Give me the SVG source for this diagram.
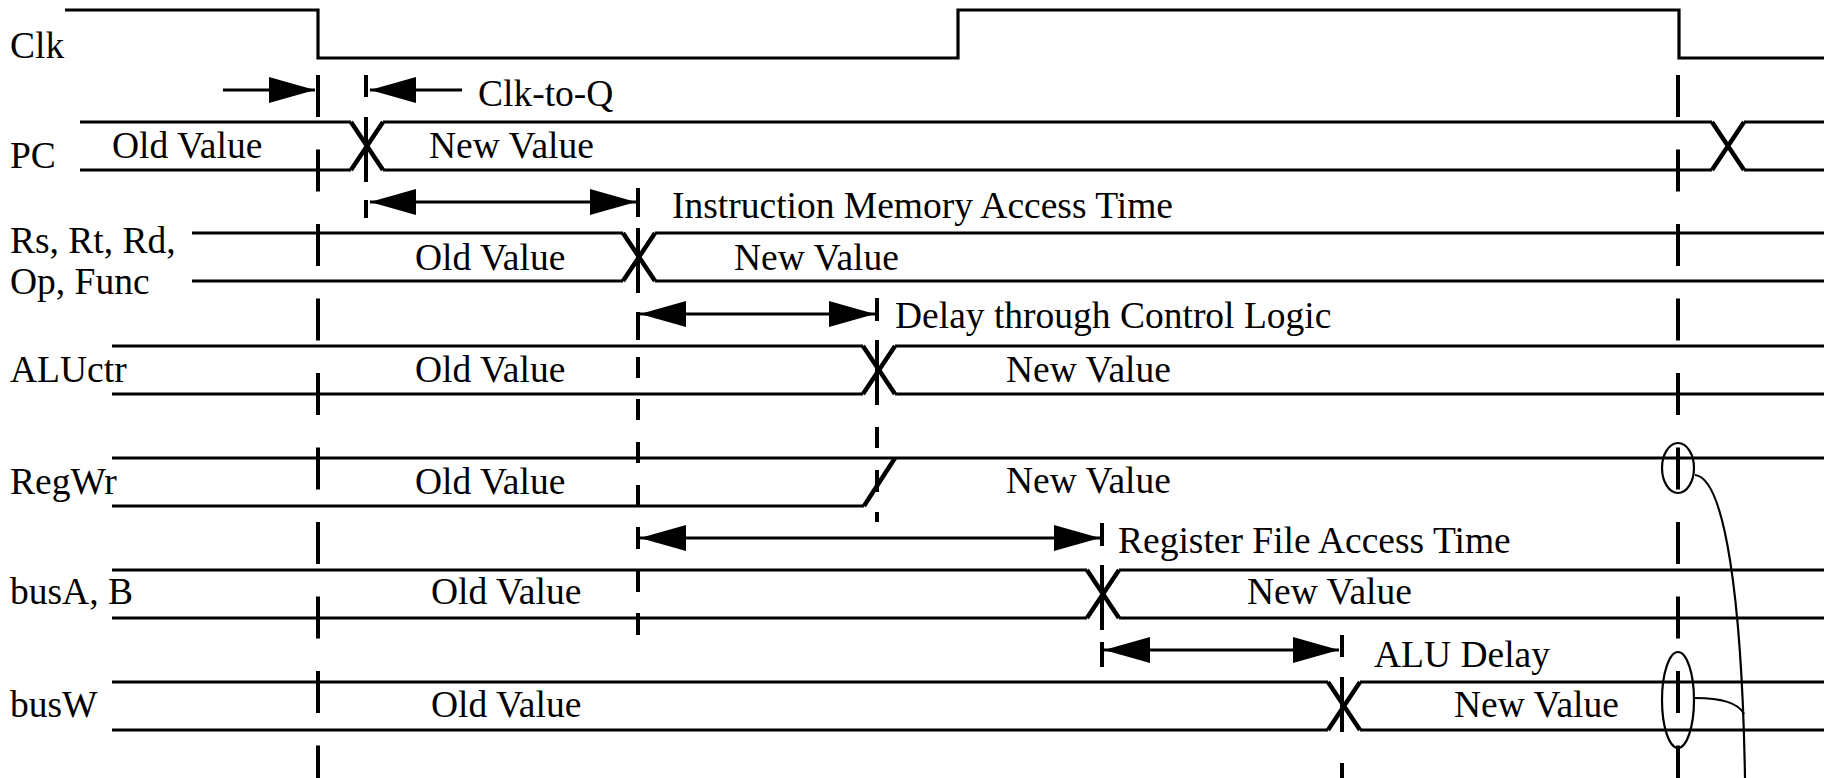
<svg xmlns="http://www.w3.org/2000/svg" width="1832" height="778" viewBox="0 0 1832 778">
<style>
text{font-family:"Liberation Serif","Times New Roman",serif;font-size:37.5px;fill:#000}
.sig{fill:none;stroke:#000;stroke-width:3.2}
.x{fill:none;stroke:#000;stroke-width:4.5}
.dl{fill:none;stroke:#000;stroke-width:4}
.ar{fill:none;stroke:#000;stroke-width:3.2}
.th{fill:none;stroke:#000;stroke-width:2.2}
</style>
<defs>
<marker id="ah" markerUnits="userSpaceOnUse" markerWidth="48" markerHeight="28" refX="46" refY="13" orient="auto-start-reverse">
<path d="M0,0 L46,13 L0,26 z" fill="#000"/>
</marker>
</defs>
<rect width="1832" height="778" fill="#fff"/>

<g id="clk">
<path class="sig" d="M65,10 H318 V58 H958 V10 H1679 V58 H1824"/>
<text x="10" y="58">Clk</text>
</g>

<g id="pc">
<path class="sig" d="M80,122 H351 M383,122 H1712 M1744,122 H1824 M80,170 H351 M383,170 H1712 M1744,170 H1824"/>
<path class="x" d="M351,122 L383,170 M351,170 L383,122 M1712,122 L1744,170 M1712,170 L1744,122"/>
<text x="10" y="168">PC</text>
<text x="112" y="158">Old Value</text>
<text x="429" y="158">New Value</text>
</g>

<g id="rs">
<path class="sig" d="M192,233 H623 M655,233 H1824 M192,281 H623 M655,281 H1824"/>
<path class="x" d="M623,233 L655,281 M623,281 L655,233"/>
<text x="10" y="253">Rs, Rt, Rd,</text>
<text x="10" y="294">Op, Func</text>
<text x="415" y="270">Old Value</text>
<text x="734" y="270">New Value</text>
</g>

<g id="aluctr">
<path class="sig" d="M112,346 H863 M895,346 H1824 M112,394 H863 M895,394 H1824"/>
<path class="x" d="M863,346 L895,394 M863,394 L895,346"/>
<text x="10" y="382">ALUctr</text>
<text x="415" y="382">Old Value</text>
<text x="1006" y="382">New Value</text>
</g>

<g id="regwr">
<path class="sig" d="M112,458 H1824 M112,506 H864"/>
<path class="x" d="M864,506 L895,458"/>
<text x="10" y="494">RegWr</text>
<text x="415" y="494">Old Value</text>
<text x="1006" y="493">New Value</text>
</g>

<g id="busa">
<path class="sig" d="M112,570 H1087 M1119,570 H1824 M112,618 H1087 M1119,618 H1824"/>
<path class="x" d="M1087,570 L1119,618 M1087,618 L1119,570"/>
<text x="10" y="604">busA, B</text>
<text x="431" y="604">Old Value</text>
<text x="1247" y="604">New Value</text>
</g>

<g id="busw">
<path class="sig" d="M112,682 H1328 M1360,682 H1824 M112,730 H1328 M1360,730 H1824"/>
<path class="x" d="M1328,682 L1360,730 M1328,730 L1360,682"/>
<text x="10" y="717">busW</text>
<text x="431" y="717">Old Value</text>
<text x="1454" y="717">New Value</text>
</g>

<g id="timing-marks">
<path class="dl" d="M318,75 V778" stroke-dasharray="42 32.5"/>
<path class="dl" d="M1678,75 V778" stroke-dasharray="42 32.5"/>
<path class="dl" d="M366,75 V97 M366,117 V182 M366,200 V218"/>
<path class="dl" d="M638,188 V217 M638,228 V293 M638,312 V340 M638,357 V378 M638,399 V420 M638,442 V463 M638,485 V506 M638,527 V549 M638,571 V592 M638,613 V635"/>
<path class="dl" d="M877,298 V321 M877,340 V405 M877,427 V448 M877,470 V492 M877,512 V522"/>
<path class="dl" d="M1102,523 V546 M1102,565 V630 M1102,642 V667"/>
<path class="dl" d="M1342,635 V657 M1342,677 V732 M1342,763 V778"/>
</g>

<g id="connectors">
<path class="ar" d="M223,90 H315" marker-end="url(#ah)"/>
<path class="ar" d="M462,90 H370" marker-end="url(#ah)"/>
<text x="478" y="106">Clk-to-Q</text>
<path class="ar" d="M370,202 H636" marker-start="url(#ah)" marker-end="url(#ah)"/>
<text x="672" y="218">Instruction Memory Access Time</text>
<path class="ar" d="M640,314 H875" marker-start="url(#ah)" marker-end="url(#ah)"/>
<text x="895" y="328">Delay through Control Logic</text>
<path class="ar" d="M640,538 H1100" marker-start="url(#ah)" marker-end="url(#ah)"/>
<text x="1118" y="553">Register File Access Time</text>
<path class="ar" d="M1104,650 H1339" marker-start="url(#ah)" marker-end="url(#ah)"/>
<text x="1374" y="667">ALU Delay</text>
<ellipse class="th" cx="1678" cy="468" rx="16" ry="25"/>
<ellipse class="th" cx="1678" cy="700" rx="16" ry="48"/>
<path class="th" d="M1695,475 C1725,478 1742,600 1745,778"/>
<path class="th" d="M1695,698 C1720,698 1738,702 1744,714"/>
</g>
</svg>
